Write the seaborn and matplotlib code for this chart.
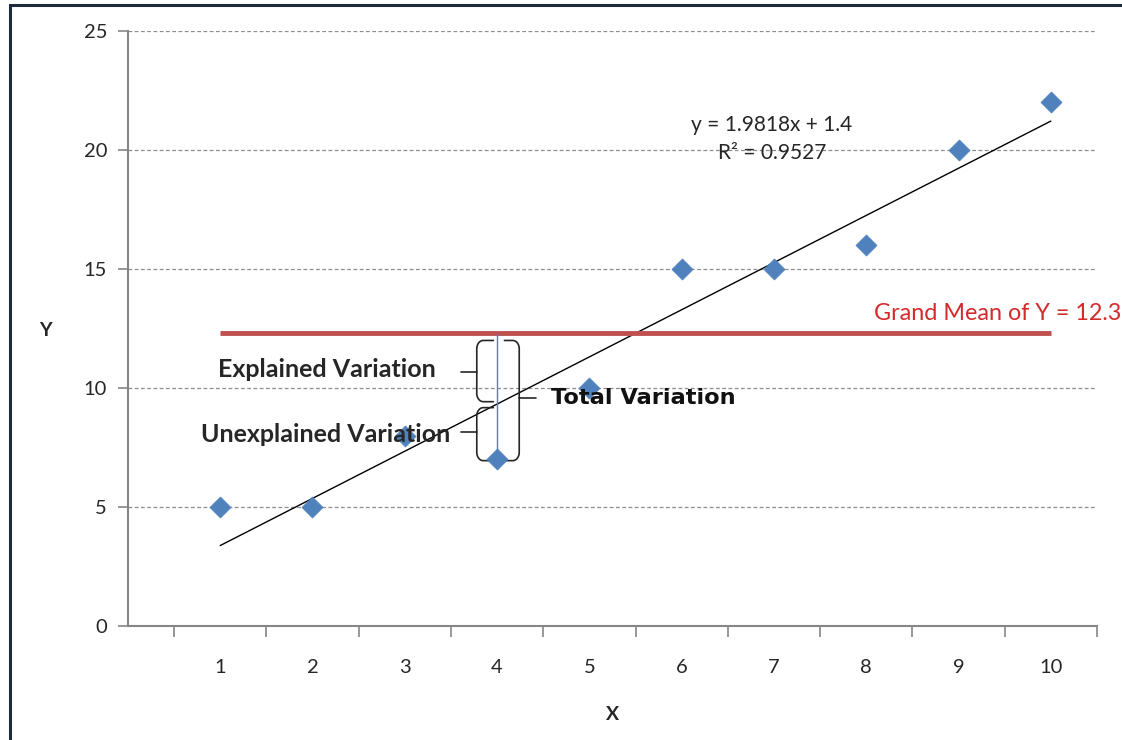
import numpy as np
import pandas as pd
import matplotlib
matplotlib.use("Agg")
import matplotlib.pyplot as plt
from matplotlib.patches import Rectangle
from matplotlib.ticker import FixedLocator
import seaborn as sns

# ---- data ----
x_vals = [1, 2, 3, 4, 5, 6, 7, 8, 9, 10]
y_vals = [5, 5, 8, 7, 10, 15, 15, 16, 20, 22]
x_ticks = [1, 2, 3, 4, 5, 6, 7, 8, 9, 10]
y_ticks = [0, 5, 10, 15, 20, 25]
eq_text = "y = 1.9818x + 1.4"
r2_text = "R² = 0.9527"
focus_x = 4

df = pd.DataFrame({"X": x_vals, "Y": y_vals})
grand_mean = float(np.mean(y_vals))
slope, intercept = np.polyfit(x_vals, y_vals, 1)
fitted_focus = slope * focus_x + intercept
obs_focus = y_vals[x_vals.index(focus_x)]

sns.set_style("white")
plt.rcParams["font.family"] = ["Lato", "DejaVu Sans"]

fig = plt.figure(figsize=(11.22, 7.40), dpi=100)
ax = fig.add_axes([0.114, 0.154, 0.8637, 0.804])

BLUE = "#4F81BD"
RED_LINE = "#C0504D"
GRID = "#8C8C8C"
AXC = "#868686"
TXT = "#262626"

# grid
for yv in y_ticks[1:]:
    ax.axhline(yv, color=GRID, lw=0.9, ls=(0, (3, 2)), zorder=0)

# regression line
sns.regplot(data=df, x="X", y="Y", scatter=False, ci=None, truncate=True,
            line_kws=dict(color="black", lw=1.0, zorder=2), ax=ax)

# grand mean line
ax.hlines(grand_mean, min(x_vals), max(x_vals), color=RED_LINE, lw=3.5, zorder=3)

# blue vertical line at focus x
ax.vlines(focus_x, obs_focus, grand_mean, color=BLUE, lw=1.0, zorder=3)

# braces
def brace(xv, y_top, y_bot, hook, tip, y_tip, rx=0.07, ry=0.35):
    s = np.sign(hook)
    t = np.linspace(0, np.pi / 2, 12)
    xs, ys = [], []
    xs += [xv + hook]; ys += [y_top]
    xs += list(xv + s * rx - s * rx * np.sin(t)); ys += list(y_top - ry + ry * np.cos(t))
    xs += [xv]; ys += [y_bot + ry]
    xs += list(xv + s * rx - s * rx * np.cos(t)); ys += list(y_bot + ry - ry * np.sin(t))
    xs += [xv + hook]; ys += [y_bot]
    ax.plot(xs, ys, color=TXT, lw=1.2, zorder=4, solid_capstyle="round")
    ax.plot([xv, xv + tip], [y_tip, y_tip], color=TXT, lw=1.2, zorder=4)

brace(focus_x - 0.22, grand_mean - 0.3, fitted_focus + 0.1, 0.18, -0.17,
      (grand_mean - 0.3 + fitted_focus) / 2)
brace(focus_x - 0.22, fitted_focus - 0.15, obs_focus - 0.05, 0.18, -0.17,
      (fitted_focus + obs_focus) / 2)
brace(focus_x + 0.24, grand_mean - 0.3, obs_focus - 0.05, -0.16, 0.18,
      (grand_mean - 0.3 + obs_focus) / 2 + 0.1)

# scatter points
sns.scatterplot(data=df, x="X", y="Y", marker="D", s=115, color=BLUE,
                edgecolor=BLUE, linewidth=0.5, zorder=5, ax=ax)

# texts
ax.text(6.98, 21.05, eq_text, ha="center", va="center", fontsize=15, color=TXT, zorder=6)
ax.text(6.98, 19.87, r2_text, ha="center", va="center", fontsize=15, color=TXT, zorder=6)
ax.text(8.08, 13.15, f"Grand Mean of Y = {grand_mean:.1f}", ha="left", va="center",
        fontsize=16.8, color="#D42A2A", clip_on=False, zorder=6)
ax.text(3.34, 10.76, "Explained Variation", ha="right", va="center",
        fontsize=18, fontweight="bold", color=TXT, zorder=6)
ax.text(3.49, 8.03, "Unexplained Variation", ha="right", va="center",
        fontsize=18, fontweight="bold", color=TXT, zorder=6)
ax.text(4.58, 9.58, "Total Variation", ha="left", va="center",
        fontsize=16.2, fontweight="bold", color="#111111", zorder=6,
        family=["DejaVu Sans"])

# axes
ax.set_xlim(0, 10.5)
ax.set_ylim(0, 25)
ax.xaxis.set_major_locator(FixedLocator(x_ticks))
ax.xaxis.set_minor_locator(FixedLocator([v + 0.5 for v in range(0, 11)]))
ax.yaxis.set_major_locator(FixedLocator(y_ticks))
ax.tick_params(axis="x", which="major", length=0, pad=24, labelsize=14.5, labelcolor=TXT)
ax.tick_params(axis="x", which="minor", length=8, width=1.2, color=AXC, direction="out")
ax.tick_params(axis="y", which="major", length=7, width=1.2, color=AXC, direction="out",
               pad=8, labelsize=14.5, labelcolor=TXT)
ax.tick_params(bottom=True, left=True, which="both")

for sp in ["top", "right"]:
    ax.spines[sp].set_visible(False)
for sp in ["left", "bottom"]:
    ax.spines[sp].set_color(AXC)
    ax.spines[sp].set_linewidth(1.5)

ax.set_xlabel("X", fontsize=14, fontweight="bold", color=TXT)
ax.set_ylabel("Y", fontsize=14, fontweight="bold", color=TXT, rotation=0,
              ha="center", va="center")
ax.yaxis.set_label_coords(-0.085, 0.496)
ax.xaxis.set_label_coords(0.5, -0.148)
ax.xaxis.label.set_va("center")

# outer screenshot border
fig.patches.append(Rectangle((10 / 1122, -0.05), 1.2, 1.05 - 5 / 740,
                             transform=fig.transFigure, fill=False,
                             edgecolor="#1F2B3A", lw=2.2, zorder=10))

fig.savefig("out.png", dpi=100)
